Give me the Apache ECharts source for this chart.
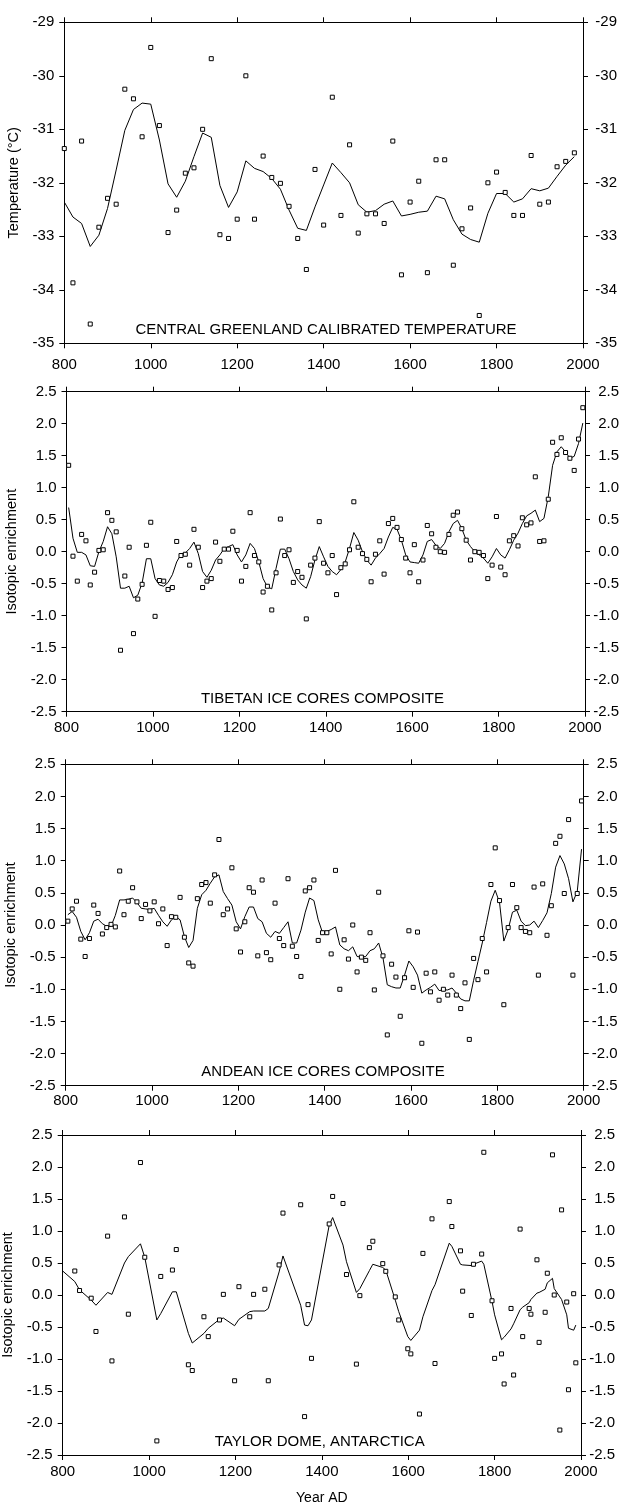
<!DOCTYPE html>
<html><head><meta charset="utf-8">
<script src="https://cdn.jsdelivr.net/npm/echarts@6/dist/echarts.min.js"></script>
<style>html,body{margin:0;padding:0;background:#fff}#c{width:620px;height:1511px}</style>
</head><body><div id="c"></div>
<script>
// ---------- DATA ----------
const xTickLabels = [800, 1000, 1200, 1400, 1600, 1800, 2000];

const greenlandYears = [800,820,840,860,880,900,920,940,960,980,1000,1020,1040,1060,1080,1100,1120,1140,1160,1180,1200,1220,1240,1260,1280,1300,1320,1340,1360,1380,1400,1420,1440,1460,1480,1500,1520,1540,1560,1580,1600,1620,1640,1660,1680,1700,1720,1740,1760,1780,1800,1820,1840,1860,1880,1900,1920,1940,1960,1980];
const greenlandPoints = [-31.36,-33.87,-31.22,-34.64,-32.83,-32.29,-32.40,-30.25,-30.43,-31.14,-29.47,-30.93,-32.93,-32.51,-31.82,-31.72,-31.00,-29.68,-32.97,-33.04,-32.68,-30.00,-32.68,-31.50,-31.90,-32.01,-32.44,-33.04,-33.62,-31.75,-32.79,-30.40,-32.61,-31.29,-32.94,-32.58,-32.58,-32.76,-31.22,-33.72,-32.36,-31.97,-33.68,-31.57,-31.57,-33.54,-32.86,-32.47,-34.48,-32.00,-31.80,-32.18,-32.61,-32.61,-31.49,-32.40,-32.36,-31.70,-31.60,-31.44];
const greenlandLine = [-32.36,-32.64,-32.76,-33.19,-32.98,-32.48,-31.76,-31.02,-30.63,-30.51,-30.53,-31.20,-32.02,-32.27,-31.97,-31.51,-31.07,-31.15,-32.05,-32.46,-32.17,-31.59,-31.73,-31.79,-31.92,-32.12,-32.51,-32.85,-32.89,-32.45,-32.04,-31.63,-31.81,-32.00,-32.41,-32.55,-32.52,-32.40,-32.34,-32.62,-32.59,-32.55,-32.53,-32.25,-32.30,-32.69,-32.96,-33.06,-33.11,-32.57,-32.20,-32.20,-32.36,-32.30,-32.11,-32.15,-32.10,-31.88,-31.67,-31.51];

const decadeYears = [805,815,825,835,845,855,865,875,885,895,905,915,925,935,945,955,965,975,985,995,1005,1015,1025,1035,1045,1055,1065,1075,1085,1095,1105,1115,1125,1135,1145,1155,1165,1175,1185,1195,1205,1215,1225,1235,1245,1255,1265,1275,1285,1295,1305,1315,1325,1335,1345,1355,1365,1375,1385,1395,1405,1415,1425,1435,1445,1455,1465,1475,1485,1495,1505,1515,1525,1535,1545,1555,1565,1575,1585,1595,1605,1615,1625,1635,1645,1655,1665,1675,1685,1695,1705,1715,1725,1735,1745,1755,1765,1775,1785,1795,1805,1815,1825,1835,1845,1855,1865,1875,1885,1895,1905,1915,1925,1935,1945,1955,1965,1975,1985,1995];

const tibetPoints = [1.35,-0.07,-0.46,0.27,0.17,-0.52,-0.32,0.02,0.03,0.61,0.49,0.31,-1.54,-0.38,0.07,-1.28,-0.74,-0.51,0.10,0.46,-1.01,-0.45,-0.46,-0.59,-0.56,0.16,-0.06,-0.04,-0.21,0.35,0.07,-0.56,-0.46,-0.42,0.15,-0.15,0.04,0.04,0.32,0.02,-0.46,-0.23,0.61,-0.06,-0.16,-0.63,-0.54,-0.91,-0.33,0.51,-0.06,0.03,-0.48,-0.31,-0.40,-1.05,-0.21,-0.10,0.47,-0.18,-0.33,-0.06,-0.67,-0.25,-0.19,0.03,0.78,0.07,-0.03,-0.12,-0.47,-0.04,0.17,-0.35,0.44,0.52,0.38,0.19,-0.10,-0.33,0.11,-0.47,-0.13,0.41,0.28,0.07,0.00,-0.01,0.27,0.57,0.62,0.36,0.18,-0.13,0.00,-0.01,-0.06,-0.42,-0.21,0.55,-0.24,-0.36,0.17,0.25,0.09,0.53,0.42,0.45,1.17,0.16,0.17,0.82,1.71,1.52,1.78,1.55,1.46,1.27,1.76,2.25];
const tibetLine = [0.69,0.21,-0.01,-0.01,-0.05,-0.22,-0.23,0.00,0.16,0.39,0.28,-0.08,-0.57,-0.57,-0.54,-0.72,-0.68,-0.49,-0.11,-0.11,-0.42,-0.52,-0.54,-0.48,-0.36,-0.16,-0.04,-0.02,0.05,0.15,-0.03,-0.31,-0.40,-0.29,-0.13,-0.05,0.05,0.08,0.11,-0.05,-0.16,-0.05,0.13,0.05,-0.16,-0.42,-0.55,-0.58,-0.26,0.04,0.04,-0.11,-0.31,-0.44,-0.52,-0.57,-0.39,-0.13,0.08,-0.08,-0.23,-0.31,-0.36,-0.28,-0.16,0.05,0.30,0.18,0.00,-0.13,-0.21,-0.10,-0.03,0.05,0.23,0.38,0.35,0.18,-0.05,-0.16,-0.17,-0.18,-0.05,0.16,0.19,0.10,0.05,0.13,0.31,0.44,0.49,0.36,0.18,0.08,0.00,-0.05,-0.10,-0.18,-0.08,0.05,-0.05,-0.10,0.03,0.18,0.29,0.44,0.56,0.60,0.65,0.47,0.52,0.86,1.35,1.56,1.64,1.56,1.46,1.49,1.69,2.01];

const andeanPoints = [0.06,0.25,0.37,-0.22,-0.49,-0.21,0.31,0.18,-0.14,-0.04,0.01,-0.03,0.84,0.16,0.37,0.58,0.36,0.10,0.32,0.22,0.36,0.02,0.25,-0.32,0.13,0.12,0.43,-0.19,-0.59,-0.64,0.41,0.63,0.66,0.34,0.78,1.33,0.16,0.25,0.89,-0.06,-0.42,0.05,0.58,0.51,-0.48,0.70,-0.43,-0.54,0.34,-0.21,-0.32,0.72,-0.33,-0.49,-0.80,0.53,0.58,0.70,-0.24,-0.12,-0.12,-0.45,0.85,-1.00,-0.23,-0.53,0.00,-0.73,-0.50,-0.55,-0.12,-1.01,0.51,-0.48,-1.71,-0.61,-0.81,-1.42,-0.82,-0.09,-0.97,-0.11,-1.84,-0.75,-1.04,-0.73,-1.17,-1.00,-1.09,-0.78,-1.09,-1.30,-0.90,-1.78,-0.52,-0.85,-0.21,-0.73,0.63,1.20,0.38,-1.24,-0.04,0.63,0.27,-0.04,-0.10,-0.12,0.59,-0.78,0.64,-0.16,0.30,1.27,1.38,0.49,1.64,-0.78,0.49,1.93];
const andeanLine = [0.16,0.21,0.12,-0.10,-0.23,-0.12,0.06,0.09,0.02,-0.02,-0.02,0.15,0.39,0.39,0.40,0.42,0.35,0.26,0.25,0.24,0.26,0.15,0.05,-0.02,0.08,0.13,0.08,-0.18,-0.35,-0.24,0.26,0.47,0.54,0.65,0.75,0.78,0.52,0.41,0.31,0.05,-0.06,0.13,0.28,0.28,0.10,0.05,-0.13,-0.19,-0.10,-0.13,-0.04,0.05,-0.28,-0.28,-0.08,0.20,0.42,0.38,0.08,-0.12,-0.10,-0.07,-0.03,-0.31,-0.37,-0.40,-0.34,-0.49,-0.50,-0.49,-0.40,-0.37,-0.28,-0.51,-0.93,-0.96,-0.98,-0.98,-0.78,-0.56,-0.65,-0.78,-1.06,-1.01,-0.97,-0.92,-1.02,-1.01,-1.01,-0.98,-1.06,-1.15,-1.18,-1.18,-0.86,-0.57,-0.28,0.04,0.37,0.54,0.35,-0.25,-0.07,0.20,0.23,0.06,-0.01,0.00,0.06,-0.04,0.07,0.19,0.49,0.90,1.08,0.95,0.72,0.36,0.52,1.18];

const taylorYears = [828,839,866,877,904,914,943,952,980,990,1018,1027,1054,1063,1091,1100,1127,1137,1163,1172,1198,1208,1233,1242,1268,1276,1301,1310,1351,1360,1368,1376,1417,1425,1449,1457,1480,1488,1510,1518,1541,1548,1570,1578,1599,1606,1626,1634,1655,1662,1695,1701,1721,1726,1746,1751,1770,1775,1794,1800,1816,1822,1838,1844,1859,1865,1880,1884,1898,1903,1917,1922,1934,1938,1951,1955,1967,1971,1983,1988];
const taylorPoints = [0.375,0.07,-0.05,-0.57,0.92,-1.03,1.22,-0.30,2.07,0.59,-2.28,0.29,0.39,0.71,-1.09,-1.18,-0.34,-0.65,-0.39,0.01,-1.34,0.13,-0.34,0.01,0.09,-1.34,0.47,1.28,1.41,-1.90,-0.15,-0.99,1.11,1.54,1.43,0.32,-1.08,-0.01,0.74,0.84,0.49,0.37,-0.03,-0.39,-0.84,-0.92,-1.86,0.65,1.19,-1.07,1.46,1.07,0.69,0.06,-0.32,0.48,0.64,2.23,-0.09,-0.99,-0.92,-1.39,-0.21,-1.25,1.03,-0.65,-0.21,-0.30,0.55,-0.74,-0.27,0.34,2.19,0.00,-2.11,1.33,-0.11,-1.48,0.02,-1.06];
const taylorLineYears = [800,828,839,866,877,904,914,943,952,980,990,1018,1027,1054,1063,1091,1100,1127,1137,1163,1172,1198,1208,1233,1242,1268,1276,1301,1310,1351,1360,1368,1376,1417,1425,1449,1457,1480,1488,1510,1518,1541,1548,1570,1578,1599,1606,1626,1634,1655,1662,1695,1701,1721,1726,1746,1751,1770,1775,1794,1800,1816,1822,1838,1844,1859,1865,1880,1884,1898,1903,1917,1922,1934,1938,1951,1955,1967,1971,1983,1988];
const taylorLine = [0.375,0.21,0.08,-0.08,-0.16,0.04,0.01,0.50,0.60,0.80,0.59,-0.39,-0.29,0.05,0.05,-0.60,-0.75,-0.60,-0.52,-0.38,-0.36,-0.48,-0.38,-0.26,-0.25,-0.25,-0.21,0.36,0.61,-0.16,-0.47,-0.48,-0.39,1.09,1.21,0.78,0.52,0.04,0.10,0.38,0.48,0.43,0.39,-0.08,-0.26,-0.65,-0.71,-0.55,-0.34,0.07,0.16,0.81,0.76,0.48,0.47,0.46,0.48,0.53,0.48,-0.10,-0.31,-0.70,-0.66,-0.53,-0.45,-0.23,-0.19,-0.12,-0.07,0.03,0.04,0.09,0.19,0.26,0.10,-0.03,-0.07,-0.31,-0.52,-0.55,-0.47];

const panelTitles = ['CENTRAL GREENLAND CALIBRATED TEMPERATURE','TIBETAN ICE CORES COMPOSITE','ANDEAN ICE CORES COMPOSITE','TAYLOR DOME, ANTARCTICA'];
const yNames = ['Temperature (°C)','Isotopic enrichment','Isotopic enrichment','Isotopic enrichment'];
const xName = 'Year AD';

// ---------- LAYOUT ----------
const FONT = "'Liberation Sans', Arial, Helvetica, sans-serif";
const layout = [
  {left:64.3, top:22.3, width:518.7, height:321, ymin:-35, ymax:-29, yint:1, dec:0, tx:326, ty:329.5, xm:14},
  {left:66.5, top:391.7, width:518.5, height:320, ymin:-2.5, ymax:2.5, yint:0.5, dec:1, tx:322.5, ty:699, xm:9},
  {left:65.7, top:764.3, width:518, height:321.4, ymin:-2.5, ymax:2.5, yint:0.5, dec:1, tx:323, ty:1071.7, xm:8},
  {left:62.7, top:1135, width:518.3, height:320, ymin:-2.5, ymax:2.5, yint:0.5, dec:1, tx:319.7, ty:1441.7, xm:9}
];
const seriesData = [
  {pts:[greenlandYears, greenlandPoints], line:[greenlandYears, greenlandLine]},
  {pts:[decadeYears, tibetPoints], line:[decadeYears, tibetLine]},
  {pts:[decadeYears, andeanPoints], line:[decadeYears, andeanLine]},
  {pts:[taylorYears, taylorPoints], line:[taylorLineYears, taylorLine]}
];
function pairs(xs, ys){ const n=Math.min(xs.length, ys.length); const out=[]; for(let i=0;i<n;i++) out.push([xs[i], ys[i]]); return out; }

const black = '#000';
const FS = 15;
const grids=[], xAxes=[], yAxes=[], series=[], graphics=[];
layout.forEach((L, i) => {
  grids.push({left:L.left, top:L.top, width:L.width, height:L.height, outerBoundsMode:'none', containLabel:false});
  const axLine = {show:true, onZero:false, lineStyle:{color:black, width:1}};
  const tick = {show:true, inside:false, length:5, lineStyle:{color:black, width:1}};
  const bottom = {type:'value', gridIndex:i, position:'bottom', min:xTickLabels[0], max:xTickLabels[xTickLabels.length-1], interval:200,
    axisLine:axLine, axisTick:tick, splitLine:{show:false},
    axisLabel:{show:true, color:black, fontFamily:FONT, fontSize:FS, margin:L.xm, formatter:v => String(v)}};
  if (i === 3) Object.assign(bottom, {name:xName, nameLocation:'middle', nameGap:36, nameTextStyle:{color:black, fontFamily:FONT, fontSize:14}});
  xAxes.push(bottom);
  xAxes.push({type:'value', gridIndex:i, position:'top', min:800, max:2000, interval:200,
    axisLine:axLine, axisTick:tick, splitLine:{show:false}, axisLabel:{show:false}});
  const fmt = v => v.toFixed(L.dec);
  yAxes.push({type:'value', gridIndex:i, position:'left', min:L.ymin, max:L.ymax, interval:L.yint,
    axisLine:axLine, axisTick:tick, splitLine:{show:false},
    axisLabel:{color:black, fontFamily:FONT, fontSize:FS, margin:10, formatter:fmt},
    name:yNames[i], nameLocation:'middle', nameRotate:90, nameGap:34,
    nameTextStyle:{color:black, fontFamily:FONT, fontSize:14.5}});
  yAxes.push({type:'value', gridIndex:i, position:'right', min:L.ymin, max:L.ymax, interval:L.yint,
    axisLine:axLine, axisTick:tick, splitLine:{show:false},
    axisLabel:{color:black, fontFamily:FONT, fontSize:FS, margin:34, align:'right', formatter:fmt}});
  const d = seriesData[i];
  series.push({type:'line', xAxisIndex:2*i, yAxisIndex:2*i, data:pairs(d.line[0], d.line[1]),
    showSymbol:false, symbol:'none', lineStyle:{color:black, width:1}, silent:true, animation:false, z:2});
  series.push({type:'scatter', xAxisIndex:2*i, yAxisIndex:2*i, data:pairs(d.pts[0], d.pts[1]),
    symbol:'rect', symbolSize:4, itemStyle:{color:'#fff', borderColor:black, borderWidth:1, opacity:1},
    silent:true, animation:false, z:3});
  graphics.push({type:'text', x:L.tx, y:L.ty, style:{text:panelTitles[i], fill:black, font:'15px ' + FONT, textAlign:'center', textVerticalAlign:'middle'}, z:10});
});

const chart = echarts.init(document.getElementById('c'), null, {renderer:'canvas', width:620, height:1511});
chart.setOption({
  animation:false, backgroundColor:'#fff',
  grid:grids, xAxis:xAxes, yAxis:yAxes, series:series, graphic:graphics
});
</script></body></html>
